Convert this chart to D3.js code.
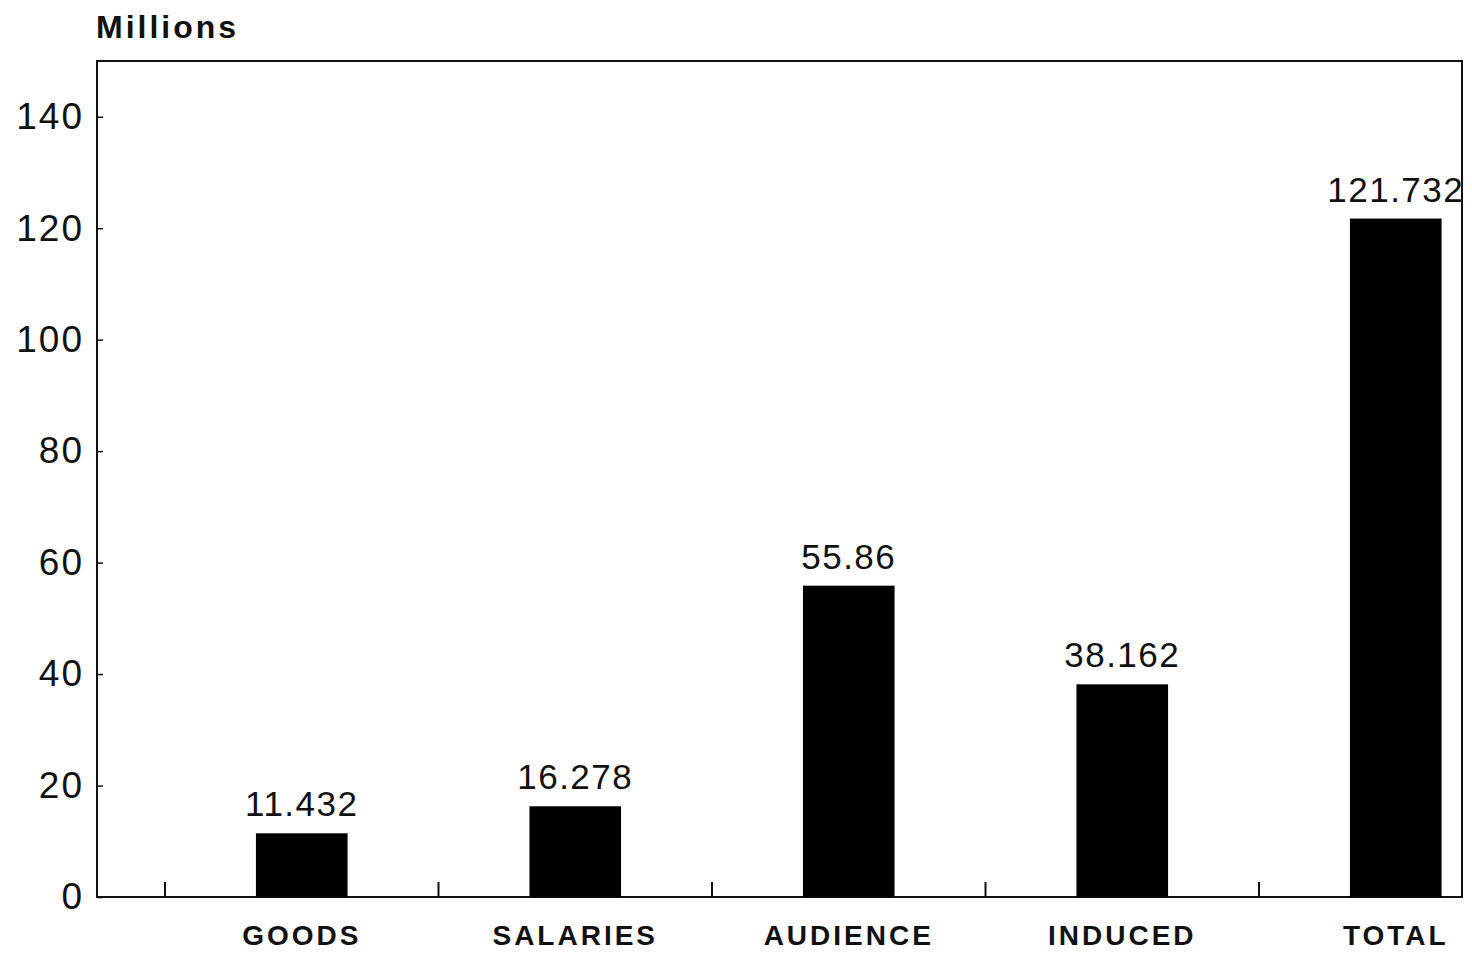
<!DOCTYPE html>
<html>
<head>
  <title>Economic Impact</title>
  <script src="https://d3js.org/d3.v7.min.js"></script>
  <style>
    body { margin: 0; background: #fff; font-family: "Liberation Sans", Arial, sans-serif; }
  </style>
</head>
<body>
  <div id="chart"></div>
  <script>
    // data
    let categories = ['GOODS', 'SALARIES', 'AUDIENCE', 'INDUCED', 'TOTAL'];
    let values = [11.432, 16.278, 55.86, 38.162, 121.732];
    let valueLabels = ['11.432', '16.278', '55.86', '38.162', '121.732'];
    let yTicks = [0, 20, 40, 60, 80, 100, 120, 140];

    let width = 1472, height = 956;
    let plot = { left: 97, right: 1462, top: 61, bottom: 897 };

    let svg = d3.select('#chart').append('svg')
      .attr('width', width)
      .attr('height', height);

    let y = d3.scaleLinear().domain([0, 150]).range([plot.bottom, plot.top]);
    let x = d3.scaleBand().domain(categories).range([165, 165 + 5 * 273.5]).padding(0);
    let barW = x.bandwidth() * 0.335;

    // frame
    svg.append('rect')
      .attr('x', plot.left).attr('y', plot.top)
      .attr('width', plot.right - plot.left).attr('height', plot.bottom - plot.top)
      .attr('fill', 'none').attr('stroke', '#111').attr('stroke-width', 2);

    // y axis
    let yAxis = svg.append('g')
      .attr('transform', 'translate(' + plot.left + ',0)')
      .call(d3.axisLeft(y).tickValues(yTicks).tickSize(-6).tickPadding(13));
    yAxis.select('.domain').remove();
    yAxis.selectAll('line').attr('stroke', '#111').attr('stroke-width', 1.5);
    yAxis.selectAll('text')
      .attr('font-family', '"Liberation Sans", Arial, sans-serif')
      .attr('font-size', 37).attr('letter-spacing', 2).attr('fill', '#111');

    // x ticks at band boundaries
    svg.selectAll('.xtick')
      .data(categories)
      .enter().append('line')
      .attr('class', 'xtick')
      .attr('x1', d => x(d)).attr('x2', d => x(d))
      .attr('y1', plot.bottom).attr('y2', plot.bottom - 15)
      .attr('stroke', '#111').attr('stroke-width', 2);

    // x labels
    let xAxis = svg.append('g')
      .attr('transform', 'translate(0,' + plot.bottom + ')')
      .call(d3.axisBottom(x).tickSize(0).tickPadding(28));
    xAxis.select('.domain').remove();
    xAxis.selectAll('text')
      .attr('font-family', '"Liberation Sans", Arial, sans-serif')
      .attr('font-size', 28).attr('font-weight', 600)
      .attr('letter-spacing', 3).attr('fill', '#111');

    // bars
    svg.selectAll('.bar')
      .data(values)
      .enter().append('rect')
      .attr('class', 'bar')
      .attr('x', (d, i) => x(categories[i]) + x.bandwidth() / 2 - barW / 2)
      .attr('y', d => y(d))
      .attr('width', barW)
      .attr('height', d => plot.bottom - y(d))
      .attr('fill', '#000');

    // value labels
    svg.selectAll('.val')
      .data(values)
      .enter().append('text')
      .attr('class', 'val')
      .attr('x', (d, i) => x(categories[i]) + x.bandwidth() / 2)
      .attr('y', d => y(d) - 17)
      .attr('text-anchor', 'middle')
      .attr('font-size', 35).attr('letter-spacing', 1.5).attr('fill', '#111')
      .text((d, i) => valueLabels[i]);

    // unit label
    svg.append('text')
      .attr('x', 96).attr('y', 38)
      .attr('font-size', 32).attr('font-weight', 600).attr('letter-spacing', 3)
      .attr('fill', '#111')
      .text('Millions');
  </script>
</body>
</html>
